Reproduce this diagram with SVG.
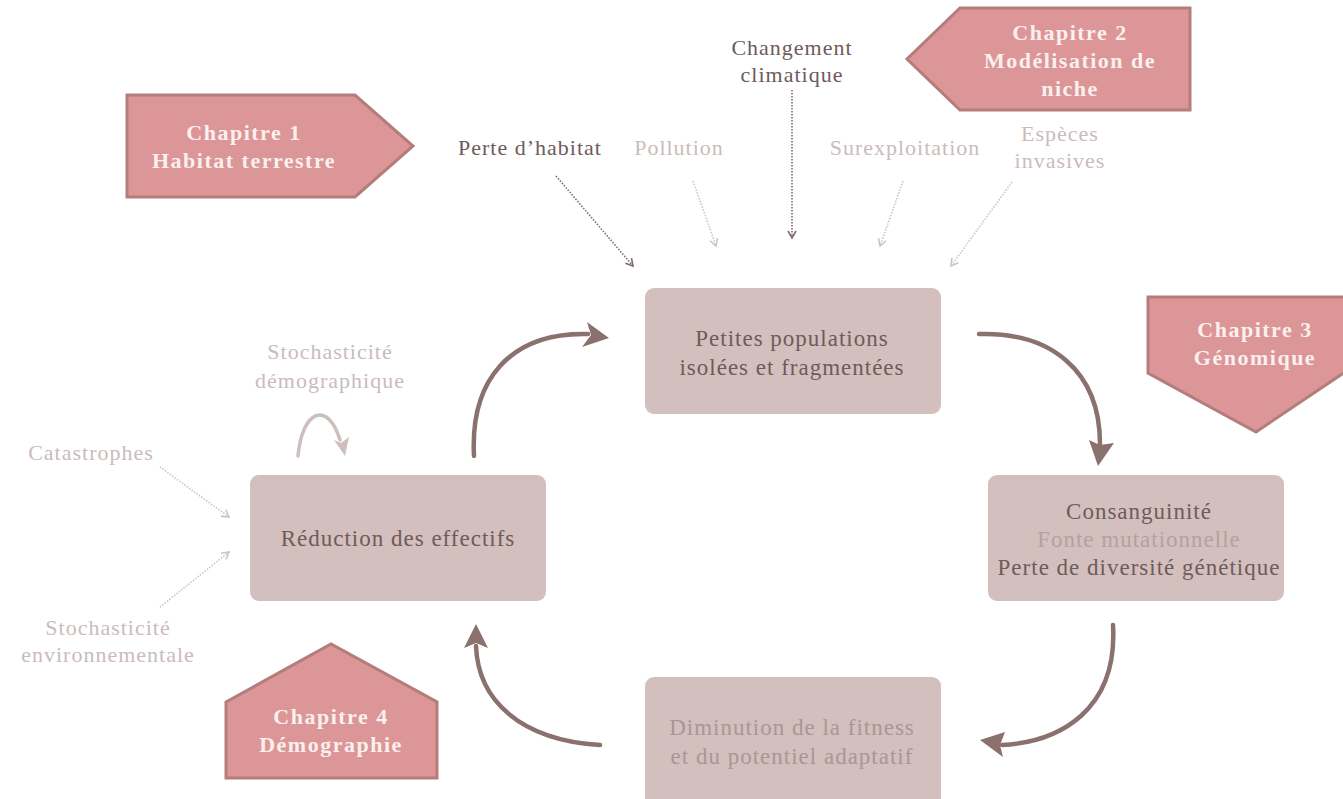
<svg xmlns="http://www.w3.org/2000/svg" width="1343" height="799" viewBox="0 0 1343 799">
<defs>
<style>
text{font-family:"Liberation Serif","DejaVu Serif",serif;font-size:22px;letter-spacing:1px;text-anchor:middle}
.bt{font-size:23px}
.chap{fill:#dc9697;stroke:#b57c7c;stroke-width:3}
.chapt{fill:#faf0ee;font-weight:bold;font-size:22px;letter-spacing:1.5px}
.box{fill:#d3bfbe}
.dark{fill:#6e5b5a}
.light{fill:#c9bcbb}
.mid{fill:#b3a1a0}
.dim{fill:#a99695}
.dot{fill:none;stroke-width:1.6;stroke-dasharray:1.5 1.5}
.dotd{stroke:#806b6a}
.dotl{stroke:#cfc3c2}
.curve{fill:none;stroke:#8a716e;stroke-width:4.5;stroke-linecap:round}
.head{fill:#8a716e}
</style>
<marker id="ad" markerWidth="10" markerHeight="10" refX="8" refY="5" orient="auto" markerUnits="userSpaceOnUse"><path d="M1,1 L8,5 L1,9" fill="none" stroke="#806b6a" stroke-width="1.6"/></marker>
<marker id="al" markerWidth="10" markerHeight="10" refX="8" refY="5" orient="auto" markerUnits="userSpaceOnUse"><path d="M1,1 L8,5 L1,9" fill="none" stroke="#cfc3c2" stroke-width="1.6"/></marker>
</defs>
<rect width="1343" height="799" fill="#ffffff"/>

<g id="chapitre1">
<polygon class="chap" points="127,95 355,95 413,146 355,197 127,197"/>
<text class="chapt" x="244" y="140">Chapitre 1</text>
<text class="chapt" x="244" y="168">Habitat terrestre</text>
</g>
<g id="chapitre2">
<polygon class="chap" points="960,8 1190,8 1190,110 960,110 907,59"/>
<text class="chapt" x="1070" y="40">Chapitre 2</text>
<text class="chapt" x="1070" y="68">Modélisation de</text>
<text class="chapt" x="1070" y="96">niche</text>
</g>
<g id="chapitre3">
<polygon class="chap" points="1148,297 1345,297 1345,372 1256,432 1148,373"/>
<text class="chapt" x="1255" y="337">Chapitre 3</text>
<text class="chapt" x="1255" y="365">Génomique</text>
</g>
<g id="chapitre4">
<polygon class="chap" points="226,702 331,644 437,702 437,778 226,778"/>
<text class="chapt" x="331" y="724">Chapitre 4</text>
<text class="chapt" x="331" y="752">Démographie</text>
</g>

<g id="threats">
<text class="dark" x="792" y="55">Changement</text>
<text class="dark" x="792" y="82">climatique</text>
<text class="dark" x="530" y="155">Perte d’habitat</text>
<text class="light" x="679" y="155">Pollution</text>
<text class="light" x="905" y="155">Surexploitation</text>
<text class="light" x="1060" y="141">Espèces</text>
<text class="light" x="1060" y="168">invasives</text>
<text class="light" x="330" y="359">Stochasticité</text>
<text class="light" x="330" y="388">démographique</text>
<text class="light" x="91" y="460">Catastrophes</text>
<text class="light" x="108" y="635">Stochasticité</text>
<text class="light" x="108" y="662">environnementale</text>
</g>

<g id="petites">
<rect class="box" x="645" y="288" width="296" height="126" rx="9"/>
<text class="dark bt" x="792" y="346">Petites populations</text>
<text class="dark bt" x="792" y="375">isolées et fragmentées</text>
</g>
<g id="reduction">
<rect class="box" x="250" y="475" width="296" height="126" rx="9"/>
<text class="dark bt" x="398" y="546">Réduction des effectifs</text>
</g>
<g id="consanguinite">
<rect class="box" x="988" y="475" width="296" height="126" rx="9"/>
<text class="dark bt" x="1139" y="519">Consanguinité</text>
<text class="mid bt" x="1139" y="547">Fonte mutationnelle</text>
<text class="dark bt" x="1139" y="575">Perte de diversité génétique</text>
</g>
<g id="diminution">
<rect class="box" x="645" y="677" width="296" height="140" rx="9"/>
<text class="dim bt" x="792" y="735">Diminution de la fitness</text>
<text class="dim bt" x="792" y="764">et du potentiel adaptatif</text>
</g>

<g id="connectors">
<line class="dot dotd" x1="556" y1="176" x2="633" y2="266" marker-end="url(#ad)"/>
<line class="dot dotl" x1="693" y1="181" x2="716" y2="246" marker-end="url(#al)"/>
<line class="dot dotd" x1="792" y1="90" x2="792" y2="238" marker-end="url(#ad)"/>
<line class="dot dotl" x1="903" y1="181" x2="880" y2="246" marker-end="url(#al)"/>
<line class="dot dotl" x1="1012" y1="182" x2="951" y2="266" marker-end="url(#al)"/>
<line class="dot dotl" x1="160" y1="467" x2="229" y2="517" marker-end="url(#al)"/>
<line class="dot dotl" x1="160" y1="607" x2="229" y2="552" marker-end="url(#al)"/>

<path class="curve" d="M474,456 C470,380 510,332 588,334"/>
<polygon class="head" points="609,338 587,322 591,335 582,347"/>

<path class="curve" d="M979,334 C1050,332 1100,370 1100,444"/>
<polygon class="head" points="1098,466 1089,440 1100,445 1114,443"/>

<path class="curve" d="M1113,625 C1118,710 1060,742 1002,745"/>
<polygon class="head" points="980,740 1005,732 1000,745 1003,757"/>

<path class="curve" d="M600,745 C520,740 478,700 476,646"/>
<polygon class="head" points="476,624 464,648 476,643 488,648"/>

<path fill="none" stroke="#cdbfbd" stroke-width="3.5" stroke-linecap="round" d="M298,456 C302,410 328,400 340,440"/>
<polygon fill="#cdbfbd" points="345,456 334,440 341,443 349,437"/>
</g>
</svg>
